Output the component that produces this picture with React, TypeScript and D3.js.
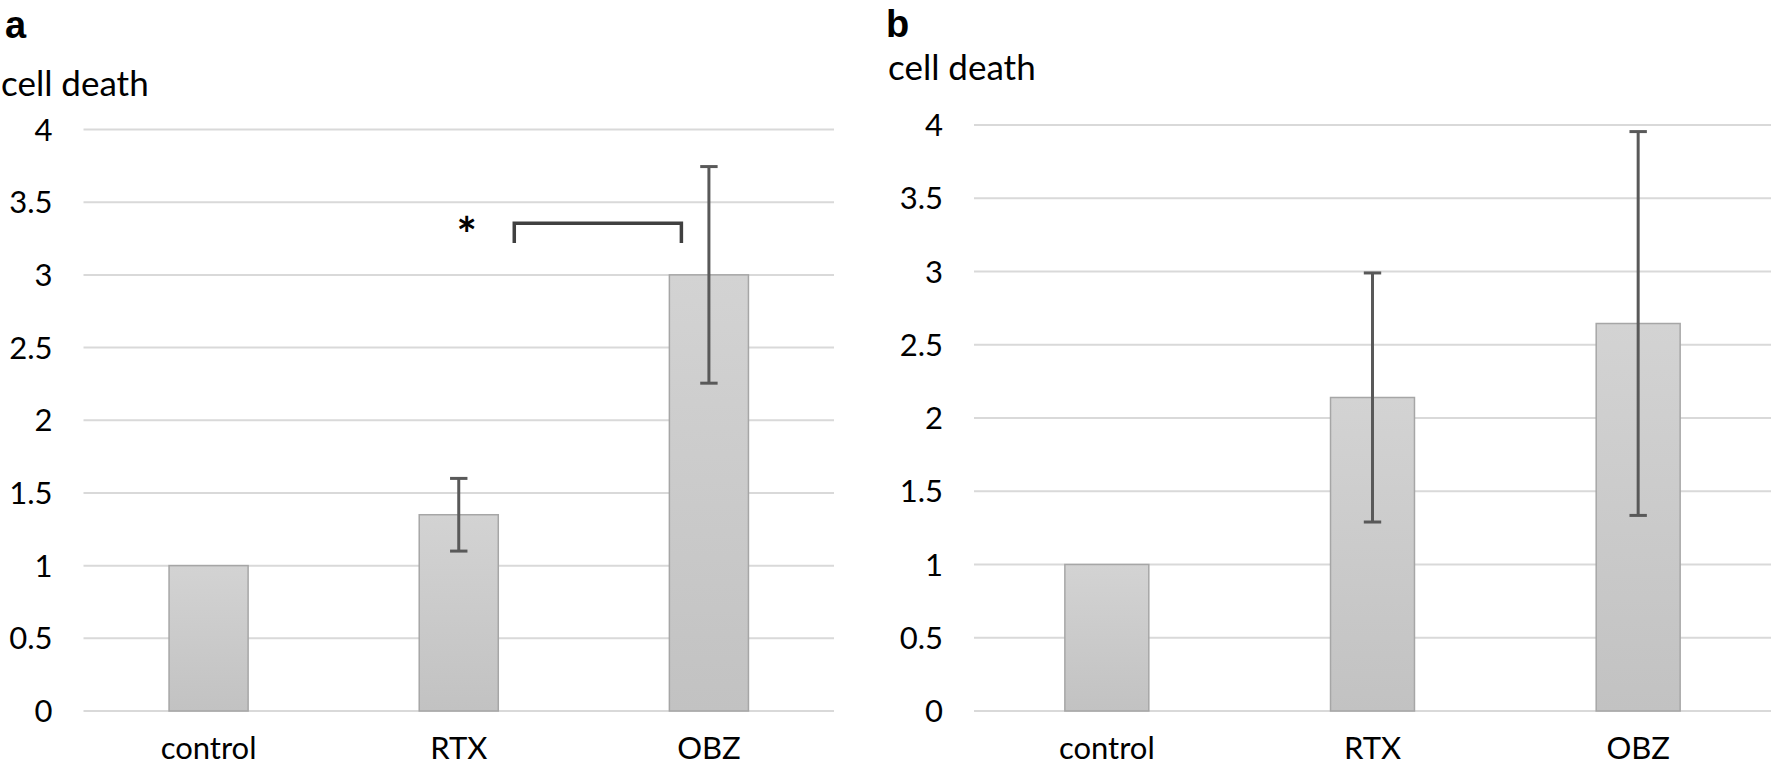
import { useEffect, useRef } from "react";
import * as d3 from "d3";

const categories = ["control", "RTX", "OBZ"];
const yTicks = [0, 0.5, 1, 1.5, 2, 2.5, 3, 3.5, 4];

// panel a
const meansA = [1, 1.35, 3.0];
const errA = [0, 0.25, 0.745];
// panel b
const meansB = [1, 2.14, 2.645];
const errB = [0, 0.85, 1.31];

const W = 1773;
const H = 770;
const FONT = "Lato, 'Open Sans', sans-serif";

interface Panel {
  letter: string;
  means: number[];
  errs: number[];
  left: number;
  right: number;
  top: number; // pixel of y = 4
  letterX: number;
  letterY: number;
  titleX: number;
  titleY: number;
  bracket: boolean;
}

export default function App() {
  const svgRef = useRef<SVGSVGElement>(null);

  useEffect(() => {
    if (!svgRef.current) return;
    const svg = d3.select(svgRef.current);
    svg.selectAll("*").remove();

    const defs = svg.append("defs");
    const grad = defs
      .append("linearGradient")
      .attr("id", "barGrad")
      .attr("x1", 0)
      .attr("y1", 0)
      .attr("x2", 0)
      .attr("y2", 1);
    grad.append("stop").attr("offset", "0%").attr("stop-color", "#d3d3d3");
    grad.append("stop").attr("offset", "100%").attr("stop-color", "#c2c2c2");

    const base = 711;

    const paneles: Panel[] = [
      {
        letter: "a",
        means: meansA,
        errs: errA,
        left: 83.5,
        right: 834,
        top: 129.5,
        letterX: 5,
        letterY: 38,
        titleX: 1,
        titleY: 96,
        bracket: true,
      },
      {
        letter: "b",
        means: meansB,
        errs: errB,
        left: 974,
        right: 1771,
        top: 125,
        letterX: 886,
        letterY: 37,
        titleX: 888,
        titleY: 80,
        bracket: false,
      },
    ];

    paneles.forEach((p) => {
      const g = svg.append("g");
      const x = d3
        .scaleBand()
        .domain(categories)
        .range([p.left, p.right])
        .paddingInner(0.684)
        .paddingOuter(0.342);
      const y = d3.scaleLinear().domain([0, 4]).range([base, p.top]);

      // gridlines
      g.selectAll("line.grid")
        .data(yTicks)
        .enter()
        .append("line")
        .attr("x1", p.left)
        .attr("x2", p.right)
        .attr("y1", (d) => y(d))
        .attr("y2", (d) => y(d))
        .attr("stroke", "#d9d9d9")
        .attr("stroke-width", 2);

      // tick labels
      g.selectAll("text.tick")
        .data(yTicks)
        .enter()
        .append("text")
        .attr("x", p.left - 31)
        .attr("y", (d) => y(d))
        .attr("dy", "0.36em")
        .attr("text-anchor", "end")
        .attr("font-family", FONT)
        .attr("font-size", 31)
        .attr("fill", "#000")
        .text((d) => String(d));

      // bars
      g.selectAll("rect.bar")
        .data(p.means)
        .enter()
        .append("rect")
        .attr("x", (_, i) => x(categories[i]) || 0)
        .attr("y", (d) => y(d))
        .attr("width", x.bandwidth())
        .attr("height", (d) => base - y(d))
        .attr("fill", "url(#barGrad)")
        .attr("stroke", "#a6a6a6")
        .attr("stroke-width", 1.5);

      // error bars
      const cap = 8.7;
      p.means.forEach((m, i) => {
        const e = p.errs[i];
        if (!e) return;
        const cx = (x(categories[i]) || 0) + x.bandwidth() / 2;
        const eg = g.append("g").attr("stroke", "#595959").attr("stroke-width", 3);
        eg.append("line").attr("x1", cx).attr("x2", cx).attr("y1", y(m + e)).attr("y2", y(m - e));
        [m + e, m - e].forEach((v) => {
          eg.append("line")
            .attr("x1", cx - cap)
            .attr("x2", cx + cap)
            .attr("y1", y(v))
            .attr("y2", y(v));
        });
      });

      // category labels
      g.selectAll("text.cat")
        .data(categories)
        .enter()
        .append("text")
        .attr("x", (d) => (x(d) || 0) + x.bandwidth() / 2)
        .attr("y", 759)
        .attr("text-anchor", "middle")
        .attr("font-family", FONT)
        .attr("font-size", 31)
        .attr("fill", "#000")
        .text((d) => d);

      // axis title
      g.append("text")
        .attr("x", p.titleX)
        .attr("y", p.titleY)
        .attr("font-family", FONT)
        .attr("font-size", 35)
        .attr("fill", "#000")
        .text("cell death");

      // panel letter
      g.append("text")
        .attr("x", p.letterX)
        .attr("y", p.letterY)
        .attr("font-family", "'Liberation Sans', Arial, sans-serif")
        .attr("font-weight", 700)
        .attr("font-size", 38)
        .attr("fill", "#000")
        .text(p.letter);

      if (p.bracket) {
        const rtx = (x("RTX") || 0) + x.bandwidth();
        const obz = x("OBZ") || 0;
        const bx1 = rtx + 16;
        const bx2 = obz + 12;
        const yTop = y(3.355);
        const yBot = y(3.22);
        g.append("path")
          .attr("d", `M${bx1},${yBot}V${yTop}H${bx2}V${yBot}`)
          .attr("fill", "none")
          .attr("stroke", "#404040")
          .attr("stroke-width", 3.5);
        g.append("text")
          .attr("x", (x("RTX") || 0) + x.bandwidth() / 2 + 8)
          .attr("y", 252)
          .attr("text-anchor", "middle")
          .attr("font-family", FONT)
          .attr("font-size", 48)
          .attr("font-weight", 700)
          .attr("fill", "#000")
          .text("*");
      }
    });
  }, []);

  return (
    <>
      <style>{`body{margin:0;background:#fff}`}</style>
      <svg ref={svgRef} width={W} height={H} viewBox={`0 0 ${W} ${H}`} style={{ display: "block" }} />
    </>
  );
}
